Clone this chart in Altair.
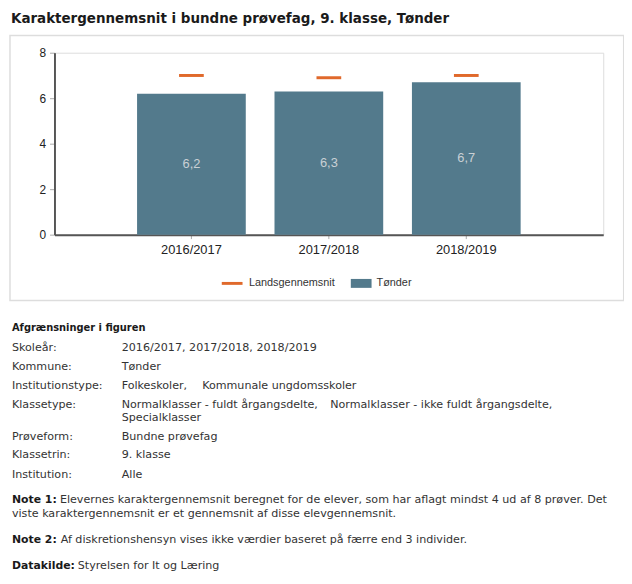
import altair as alt
import pandas as pd

# ---------------- data ----------------
years = ["2016/2017", "2017/2018", "2018/2019"]
tonder = [6.2, 6.3, 6.7]
lands = [7.0, 6.9, 7.0]
series = ["Landsgennemsnit", "Tønder"]

title_text = "Karaktergennemsnit i bundne prøvefag, 9. klasse, Tønder"
info_head = "Afgrænsninger i figuren"
info_labels = ["Skoleår:", "Kommune:", "Institutionstype:", "Klassetype:",
               "Prøveform:", "Klassetrin:", "Institution:"]
info_values = [["2016/2017, 2017/2018, 2018/2019"],
               ["Tønder"],
               ["Folkeskoler,", "Kommunale ungdomsskoler"],
               ["Normalklasser - fuldt årgangsdelte,", "Normalklasser - ikke fuldt årgangsdelte,", "Specialklasser"],
               ["Bundne prøvefag"],
               ["9. klasse"],
               ["Alle"]]
note1_head = "Note 1:"
note1_lines = ["Elevernes karaktergennemsnit beregnet for de elever, som har aflagt mindst 4 ud af 8 prøver. Det",
               "viste karaktergennemsnit er et gennemsnit af disse elevgennemsnit."]
note2_head = "Note 2:"
note2_text = "Af diskretionshensyn vises ikke værdier baseret på færre end 3 individer."
source_head = "Datakilde:"
source_text = "Styrelsen for It og Læring"

# ---------------- tables ----------------
rows = []
for y, t, l in zip(years, tonder, lands):
    rows.append({"year": y, "serie": series[1], "value": t,
                 "label": f"{t:.1f}".replace(".", ",")})
    rows.append({"year": y, "serie": series[0], "value": l,
                 "label": f"{l:.1f}".replace(".", ",")})
df = pd.DataFrame(rows)

BAR = "#537a8c"
ORANGE = "#e0692b"
AX_FONT = "Liberation Sans"
TXT_FONT = "DejaVu Sans"
TXT_COLOR = "#333333"
TXT_SIZE = 11.25

rect_path = "M-1,-0.43H1V0.43H-1Z"
line_path = "M-1,-0.14H1V0.14H-1Z"


def legend(px, shape, offset):
    return alt.Legend(
        orient="none", legendX=px, legendY=222.8, title=None,
        symbolType=shape, symbolSize=441, symbolStrokeWidth=0, symbolOpacity=1,
        labelFont=AX_FONT, labelFontSize=11, labelColor="#333333",
        labelOffset=offset, padding=0)


x = alt.X("year:N", sort=years,
          scale=alt.Scale(paddingInner=0.209, paddingOuter=0.601),
          axis=alt.Axis(title=None, labelAngle=0, domainColor="#555555", domainWidth=2,
                        tickColor="#aaaaaa", tickSize=4, labelPadding=5,
                        labelFont=AX_FONT, labelFontSize=13, labelColor="#222222"))
y_axis = alt.Axis(title=None, values=[0, 2, 4, 6, 8], grid=False,
                  domainColor="#555555", domainWidth=2, tickColor="#aaaaaa",
                  tickSize=5, labelPadding=4, labelFont=AX_FONT, labelFontSize=12,
                  labelColor="#222222")
yscale = alt.Scale(domain=[0, 8], nice=False)

base = alt.Chart(df)

bars = base.transform_filter(alt.datum.serie == series[1]).mark_bar().encode(
    x=x, y=alt.Y("value:Q", scale=yscale, axis=y_axis),
    color=alt.Color("serie:N", scale=alt.Scale(domain=[series[1]], range=[BAR]),
                    legend=legend(299.7, rect_path, 5)))

ticks = base.transform_filter(alt.datum.serie == series[0]).mark_tick(
    size=25, thickness=3, opacity=1).encode(
    x=alt.X("year:N", sort=years), y=alt.Y("value:Q"),
    color=alt.Color("serie:N", scale=alt.Scale(domain=[series[0]], range=[ORANGE]),
                    legend=legend(169.2, line_path, 6.5)))

labels = base.transform_filter(alt.datum.serie == series[1]).transform_calculate(
    mid="datum.value / 2").mark_text(
    color="#c9d0d5", font=AX_FONT, fontSize=13, baseline="middle").encode(
    x=alt.X("year:N", sort=years), y=alt.Y("mid:Q"), text="label:N")

dummy = alt.Data(values=[{"k": 1}])


def txt(s, px, py, bold=False, size=TXT_SIZE, color=TXT_COLOR, font=TXT_FONT):
    return alt.Chart(dummy).mark_text(
        text=s, align="left", baseline="middle", font=font, fontSize=size,
        fontWeight="bold" if bold else "normal", color=color).encode(
        x=alt.value(px), y=alt.value(py))


box = alt.Chart(dummy).mark_rect(fill="transparent", stroke="#dddddd", strokeWidth=1.5).encode(
    x=alt.value(-45), x2=alt.value(575.7), y=alt.value(-17.5), y2=alt.value(250.7))

L = -43
V = 68
texts = [
    txt(title_text, L - 1, -34.5, bold=True, size=13.6, color="#1a1a1a"),
    txt(info_head, L, 278.3, bold=True, size=10, color="#1a1a1a"),
]
row_y = [298.3, 317.7, 336.7, 356.7, 388.3, 407, 426.7]
for lab, vals, yy in zip(info_labels, info_values, row_y):
    texts.append(txt(lab, L, yy))
    if len(vals) == 1:
        texts.append(txt(vals[0], V, yy))
    elif len(vals) == 2:
        texts.append(txt(vals[0], V, yy))
        texts.append(txt(vals[1], 149.4, yy))
    else:
        texts.append(txt(vals[0], V, yy))
        texts.append(txt(vals[1], 278.9, yy))
        texts.append(txt(vals[2], V, yy + 12.6))

texts += [
    txt(note1_head, L, 452.7, bold=True, size=11, color="#1a1a1a"),
    txt(note1_lines[0], 5.5, 452.7),
    txt(note1_lines[1], L, 466.7),
    txt(note2_head, L, 493.3, bold=True, size=11, color="#1a1a1a"),
    txt(note2_text, 6.3, 493.3),
    txt(source_head, L, 519.3, bold=True, size=11, color="#1a1a1a"),
    txt(source_text, 23.6, 519.3),
]

chart = alt.layer(box, bars, ticks, labels, *texts).resolve_scale(
    color="independent").resolve_legend(color="independent").properties(
    width=555, height=184,
    autosize=alt.AutoSizeParams(type="none"),
    padding={"left": 47, "top": 42, "right": 21, "bottom": 342},
).configure_view(stroke=None).configure(background="white")

chart.save("out.html", embed_options={"renderer": "svg", "actions": False})
